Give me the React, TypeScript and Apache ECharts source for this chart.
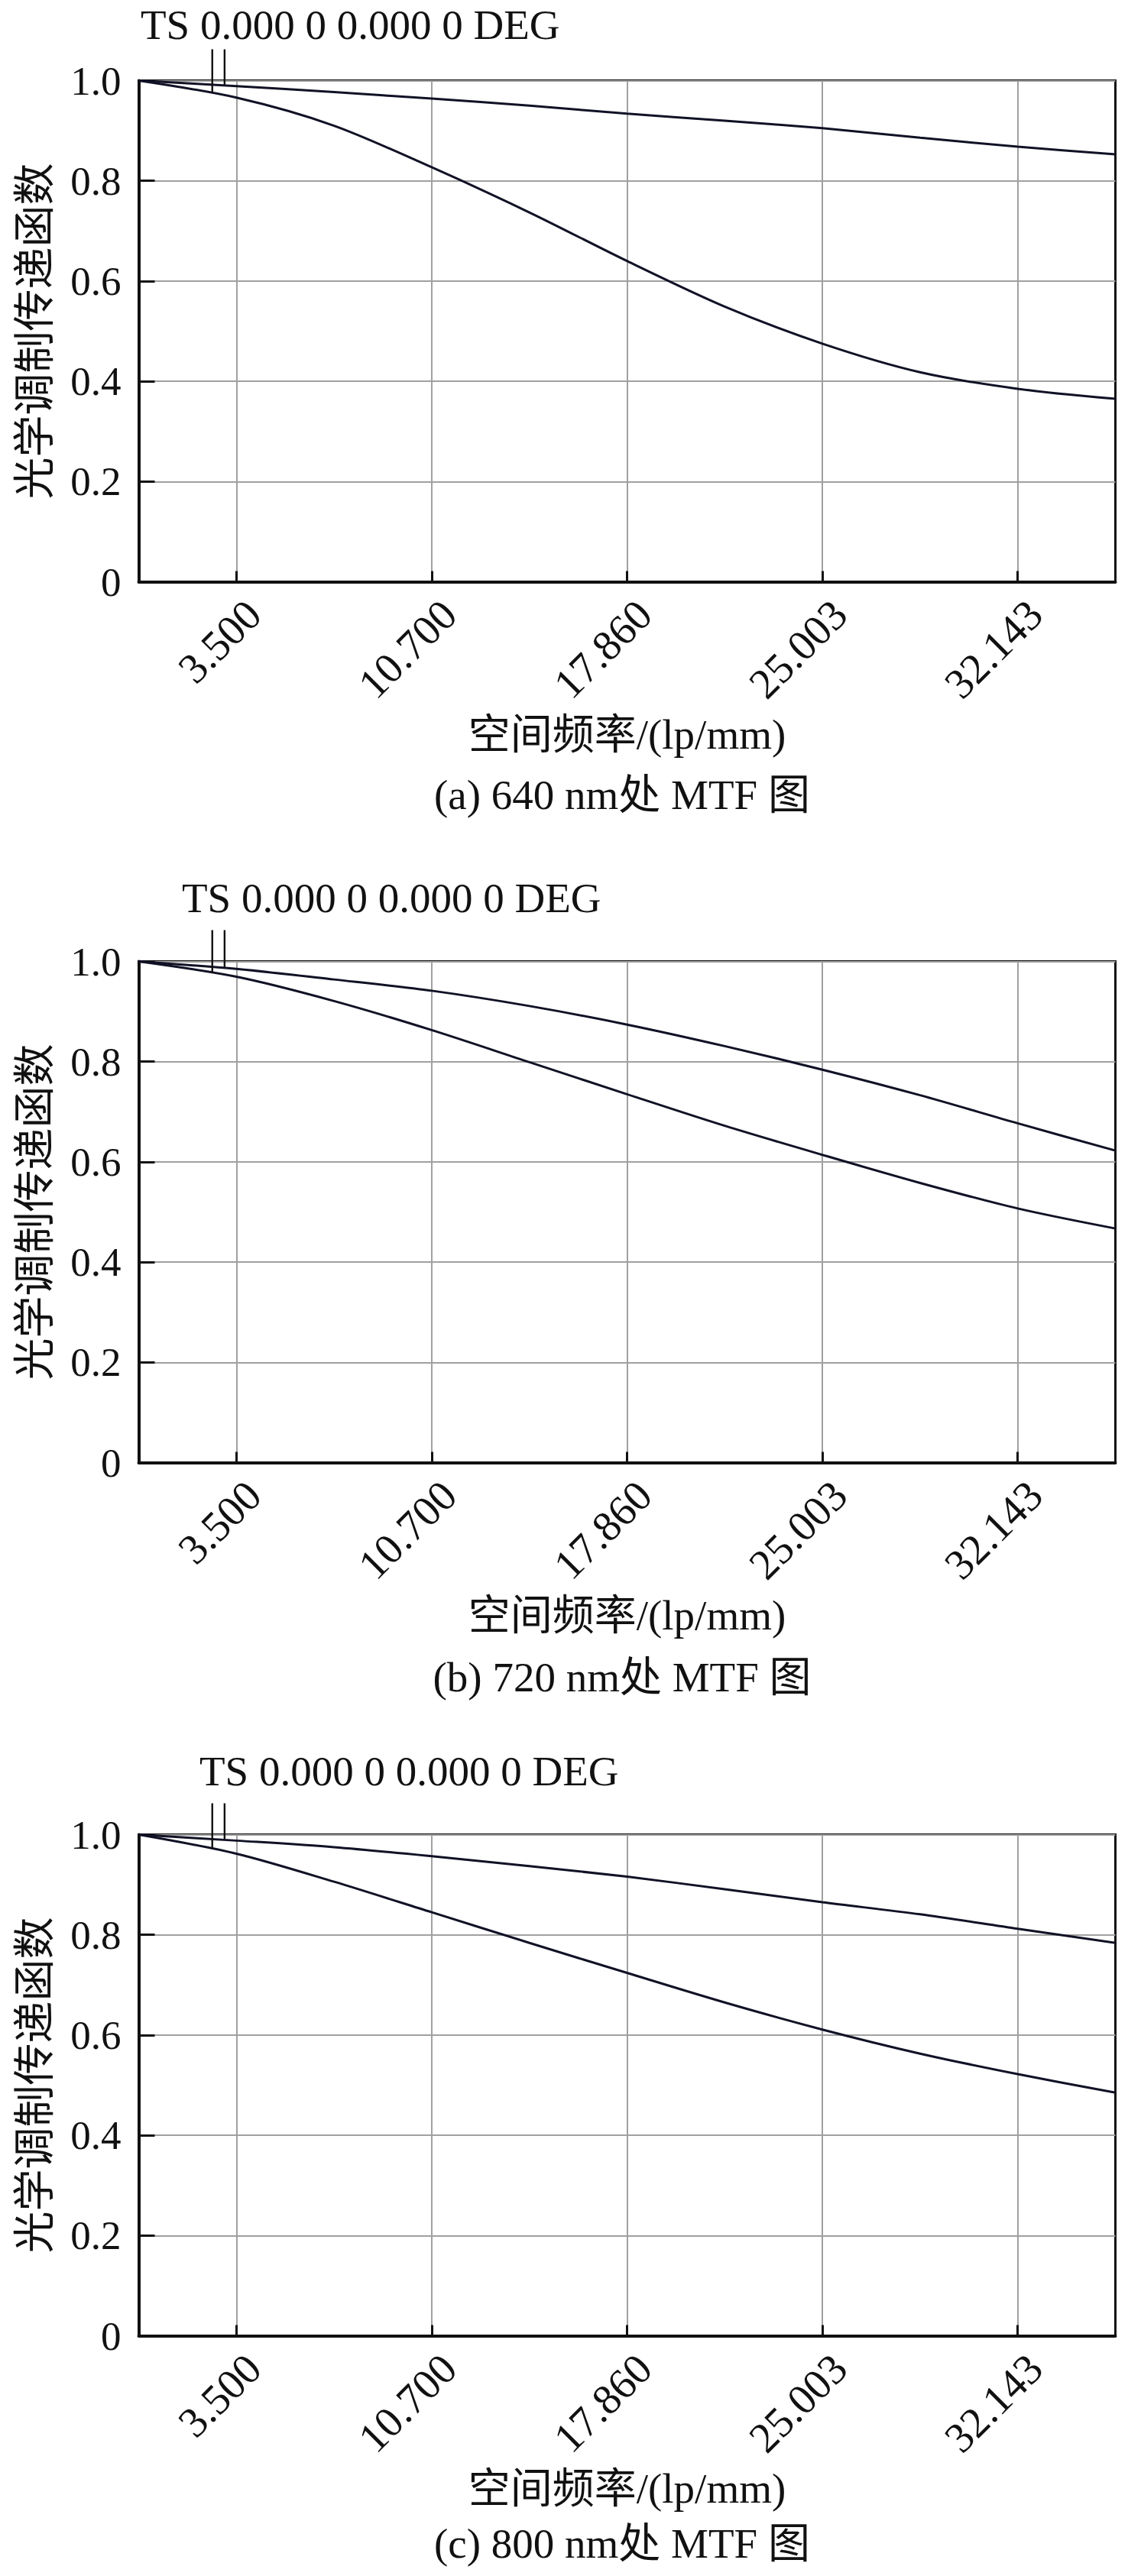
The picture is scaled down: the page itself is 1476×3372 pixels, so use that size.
import React, { useEffect, useRef } from "react";
import * as echarts from "echarts";

// spatial frequency samples (lp/mm), one per grid division
const FREQ = [0, 3.5714, 7.1429, 10.7143, 14.2857, 17.8571, 21.4286, 25.0, 28.5714, 32.1429, 35.7143];
const X_STEP = 3.57143;
const X_MAX = 35.7143;
const X_TICK_POS = [3.5714, 10.7143, 17.8571, 25.0, 32.1429];
const X_TICK_LABELS = ["3.500", "10.700", "17.860", "25.003", "32.143"];
const Y_TICK_POS = [0, 0.2, 0.4, 0.6, 0.8, 1.0];
const Y_TICK_LABELS = ["0", "0.2", "0.4", "0.6", "0.8", "1.0"];

// (a) 640 nm
const A_UPPER = [1.0, 0.989, 0.977, 0.964, 0.95, 0.934, 0.92, 0.905, 0.886, 0.868, 0.853];
const A_LOWER = [1.0, 0.966, 0.91, 0.827, 0.737, 0.64, 0.549, 0.475, 0.418, 0.385, 0.365];
// (b) 720 nm
const B_UPPER = [1.0, 0.985, 0.964, 0.9415, 0.911, 0.874, 0.831, 0.784, 0.733, 0.677, 0.6225];
const B_LOWER = [1.0, 0.9695, 0.921, 0.863, 0.799, 0.735, 0.672, 0.614, 0.558, 0.507, 0.467];
// (c) 800 nm
const C_UPPER = [1.0, 0.988, 0.975, 0.957, 0.937, 0.916, 0.891, 0.865, 0.841, 0.812, 0.784];
const C_LOWER = [1.0, 0.962, 0.906, 0.845, 0.784, 0.724, 0.665, 0.611, 0.563, 0.522, 0.485];

// legend marker lines (T / S) : x positions, top value, bottom values per panel
const MARKER_X = [2.69, 3.14];
const MARKER_TOP = 1.0625;
const MARKER_A = [0.975, 0.991];
const MARKER_B = [0.977, 0.988];
const MARKER_C = [0.972, 0.991];

const TITLE_TEXT = "TS 0.000 0 0.000 0 DEG";
const X_NAME = "空间频率/(lp/mm)";
const Y_NAME = "光学调制传递函数";
const CAPTIONS = ["(a) 640 nm处 MTF 图", "(b) 720 nm处 MTF 图", "(c) 800 nm处 MTF 图"];

const PANELS = [
  { upper: A_UPPER, lower: A_LOWER, marker: MARKER_A },
  { upper: B_UPPER, lower: B_LOWER, marker: MARKER_B },
  { upper: C_UPPER, lower: C_LOWER, marker: MARKER_C },
];

// layout
const GRID_TOPS = [105.5, 1258.5, 2401.5];
const GRID_LEFT = 181.5;
const GRID_W = 1278;
const GRID_H = 656;
const TITLE_POS = [
  [184, 32],
  [238, 1175],
  [261, 2318],
];
const CAPTION_Y = [1040, 2195, 3329];

const FONT = "'Liberation Serif', 'Times New Roman', 'Noto Sans CJK SC', serif";
const LINE_COLOR = "#111126";
const GRID_COLOR = "#a0a0a0";

export default function App() {
  const ref = useRef<HTMLDivElement>(null);

  useEffect(() => {
    document.body.style.margin = "0";
    if (!ref.current) return;
    const chart = echarts.init(ref.current, undefined, { renderer: "svg" });

    const grids = PANELS.map((_, i) => ({
      left: GRID_LEFT,
      top: GRID_TOPS[i],
      width: GRID_W,
      height: GRID_H,
      show: true,
      borderColor: "#111",
      borderWidth: 3,
      backgroundColor: "transparent",
      containLabel: false,
    }));

    const xAxes = PANELS.map((_, i) => ({
      type: "value",
      gridIndex: i,
      min: 0,
      max: X_MAX,
      interval: X_STEP,
      name: X_NAME,
      nameLocation: "middle",
      nameGap: 172,
      nameTextStyle: { fontSize: 55, fontFamily: FONT, color: "#111", lineHeight: 56 },
      axisLine: { show: true, lineStyle: { color: "#111", width: 4 } },
      axisTick: {
        show: true,
        inside: true,
        length: 14,
        customValues: X_TICK_POS,
        lineStyle: { color: "#111", width: 3 },
      },
      axisLabel: {
        show: true,
        customValues: X_TICK_POS,
        rotate: 45,
        margin: 11,
        fontSize: 56,
        lineHeight: 64,
        align: "right",
        verticalAlign: "top",
        fontFamily: FONT,
        color: "#111",
        formatter: (v: number) => {
          const k = X_TICK_POS.findIndex((p) => Math.abs(p - v) < 0.01);
          return k >= 0 ? X_TICK_LABELS[k] : "";
        },
      },
      splitLine: { show: true, lineStyle: { color: GRID_COLOR, width: 2 } },
    }));

    const yAxes = PANELS.map((_, i) => ({
      type: "value",
      gridIndex: i,
      min: 0,
      max: 1,
      interval: 0.1,
      name: Y_NAME,
      nameLocation: "middle",
      nameGap: 108,
      nameTextStyle: { fontSize: 55, fontFamily: FONT, color: "#111", lineHeight: 56 },
      axisLine: { show: true, lineStyle: { color: "#111", width: 4 } },
      axisTick: {
        show: true,
        inside: true,
        length: 21,
        customValues: Y_TICK_POS,
        lineStyle: { color: "#111", width: 3 },
      },
      axisLabel: {
        show: true,
        customValues: Y_TICK_POS,
        margin: 23,
        fontSize: 53,
        fontFamily: FONT,
        color: "#111",
        formatter: (v: number) => {
          const k = Y_TICK_POS.findIndex((p) => Math.abs(p - v) < 0.001);
          return k >= 0 ? Y_TICK_LABELS[k] : "";
        },
      },
      splitLine: { show: true, lineStyle: { color: GRID_COLOR, width: 2 } },
    }));

    const series: any[] = [];
    PANELS.forEach((p, i) => {
      [p.upper, p.lower].forEach((vals, j) => {
        series.push({
          type: "line",
          name: `curve-${i}-${j}`,
          xAxisIndex: i,
          yAxisIndex: i,
          data: FREQ.map((f, k) => [f, vals[k]]),
          showSymbol: false,
          smooth: 0.3,
          lineStyle: { color: LINE_COLOR, width: 3 },
          z: 5,
        });
      });
      MARKER_X.forEach((mx, j) => {
        series.push({
          type: "line",
          name: `marker-${i}-${j}`,
          xAxisIndex: i,
          yAxisIndex: i,
          clip: false,
          data: [
            [mx, MARKER_TOP],
            [mx, p.marker[j]],
          ],
          showSymbol: false,
          lineStyle: { color: "#111", width: 2.4 },
          z: 6,
        });
      });
    });

    const graphic: any[] = [];
    TITLE_POS.forEach(([x, y]) => {
      graphic.push({
        type: "text",
        x,
        y,
        style: {
          text: TITLE_TEXT,
          fontSize: 55,
          fontFamily: FONT,
          fill: "#111",
          align: "left",
          verticalAlign: "middle",
        },
      });
    });
    CAPTIONS.forEach((c, i) => {
      graphic.push({
        type: "text",
        x: 814,
        y: CAPTION_Y[i],
        style: {
          text: c,
          fontSize: 55,
          fontFamily: FONT,
          fill: "#111",
          align: "center",
          verticalAlign: "middle",
        },
      });
    });

    chart.setOption({
      animation: false,
      backgroundColor: "#fff",
      grid: grids,
      xAxis: xAxes,
      yAxis: yAxes,
      series,
      graphic,
    });

    return () => chart.dispose();
  }, []);

  return <div ref={ref} style={{ width: 1476, height: 3372 }} />;
}
